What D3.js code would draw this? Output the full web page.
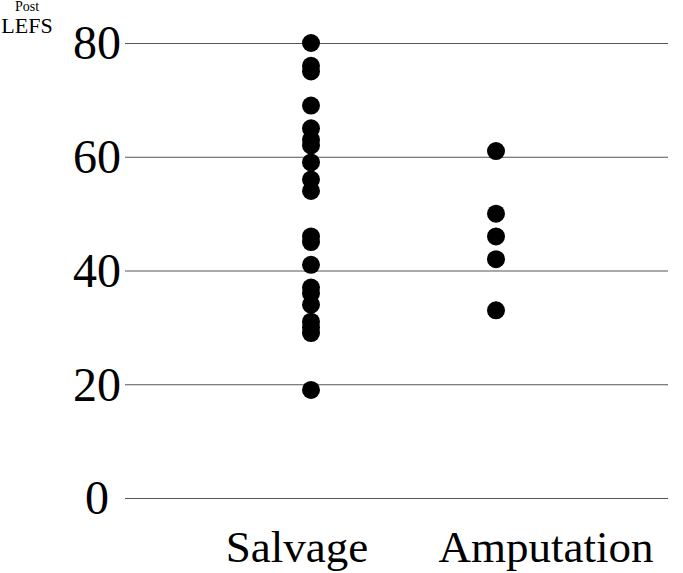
<!DOCTYPE html>
<html>
<head>
<meta charset="utf-8">
<script src="https://cdn.jsdelivr.net/npm/d3@7"></script>
<style>
  html, body { margin: 0; padding: 0; background: #fff; }
  svg { display: block; }
  text { font-family: "Liberation Serif", "DejaVu Serif", serif; fill: #000; }
</style>
</head>
<body>
<svg id="chart" width="683" height="573"></svg>
<script>
// groups on the x axis
var categories = ["Salvage", "Amputation"];

// post-op LEFS per patient
var salvageValues = [80, 76, 75, 69, 65, 63, 62, 59, 56, 54, 46, 45, 41, 37, 36, 34, 31, 30, 29, 19];
var amputationValues = [61, 50, 46, 42, 33];

var yTicks = [0, 20, 40, 60, 80];

var width = 683, height = 573;
var svg = d3.select("#chart");

/* y 스케일 : 0 -> 498px, 80 -> 43px */
var y = d3.scaleLinear().domain([0, 80]).range([498, 43]);

/* 점 위치, 라벨 위치 */
var x = d3.scalePoint().domain(categories).range([311, 496]);
var xLabel = d3.scalePoint().domain(categories).range([297, 546]);

var gridLeft = 125, gridRight = 668;

/* 가로 격자선 */
var gy = svg.append("g")
    .attr("transform", "translate(" + gridRight + ",0)")
    .call(d3.axisLeft(y).tickValues(yTicks).tickSize(gridRight - gridLeft).tickFormat(""));
gy.select(".domain").remove();
gy.selectAll(".tick line").attr("stroke", "#555").attr("stroke-width", 1);

/* 눈금 라벨 */
svg.append("g")
    .selectAll("text")
    .data(yTicks)
    .enter()
    .append("text")
    .attr("x", 97)
    .attr("y", function(d) { return y(d); })
    .attr("dy", "0.34em")
    .attr("text-anchor", "middle")
    .attr("font-size", "48px")
    .text(function(d) { return d; });

/* 점 데이터 */
var points = [];
salvageValues.forEach(function(v) { points.push({ group: "Salvage", value: v }); });
amputationValues.forEach(function(v) { points.push({ group: "Amputation", value: v }); });

svg.append("g")
    .selectAll("circle")
    .data(points)
    .enter()
    .append("circle")
    .attr("cx", function(d) { return x(d.group); })
    .attr("cy", function(d) { return y(d.value); })
    .attr("r", 9)
    .attr("fill", "#000");

/* x 라벨 */
svg.append("g")
    .selectAll("text")
    .data(categories)
    .enter()
    .append("text")
    .attr("x", function(d) { return xLabel(d); })
    .attr("y", 562)
    .attr("text-anchor", "middle")
    .attr("font-size", "45px")
    .text(function(d) { return d; });

/* y 축 제목 */
svg.append("text")
    .attr("x", 27)
    .attr("y", 11)
    .attr("text-anchor", "middle")
    .attr("font-size", "14px")
    .text("Post");
svg.append("text")
    .attr("x", 27)
    .attr("y", 33)
    .attr("text-anchor", "middle")
    .attr("font-size", "22px")
    .text("LEFS");
</script>
</body>
</html>
